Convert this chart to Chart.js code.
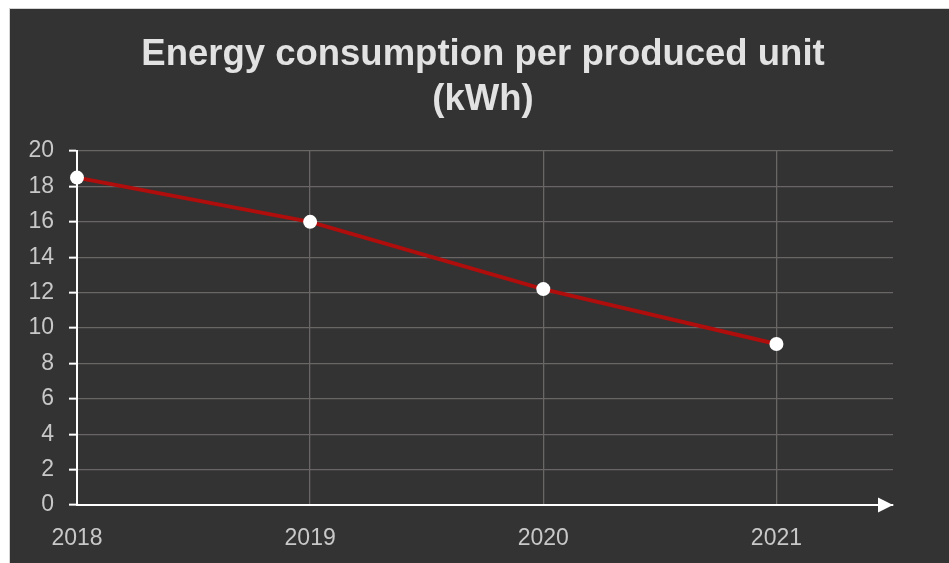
<!DOCTYPE html>
<html>
<head>
<meta charset="utf-8">
<script src="https://cdn.jsdelivr.net/npm/chart.js@4/dist/chart.umd.min.js"></script>
<style>
    body { margin: 0; background: #ffffff; }
    #wrap {
        position: absolute; left: 9px; top: 8px;
        width: 939px; height: 554px;
        border-left: 1px solid #d4d4d4; border-top: 1px solid #d4d4d4;
        background: #333333;
    }
</style>
</head>
<body>
<div id="wrap"><canvas id="chart" width="939" height="554"></canvas></div>
<script>
// данные графика
const years = [2018, 2019, 2020, 2021];
const energyPerUnit = [18.5, 16.0, 12.2, 9.1];
const yTicks = [0, 2, 4, 6, 8, 10, 12, 14, 16, 18, 20];
const chartTitle = ['Energy consumption per produced unit', '(kWh)'];

const fontFamily = '"Liberation Sans", Arial, sans-serif';

// стрелка на конце оси X
const axisArrow = {
    id: 'axisArrow',
    afterDraw(chart) {
        const ctx = chart.ctx;
        const area = chart.chartArea;
        ctx.save();
        ctx.fillStyle = '#ffffff';
        ctx.beginPath();
        ctx.moveTo(area.right, area.bottom);
        ctx.lineTo(area.right - 15, area.bottom - 7.5);
        ctx.lineTo(area.right - 15, area.bottom + 7.5);
        ctx.closePath();
        ctx.fill();
        ctx.restore();
    }
};

function buildPoints() {
    return years.map((year, i) => ({ x: year, y: energyPerUnit[i] }));
}

const config = {
    type: 'line',
    data: {
        datasets: [{
            data: buildPoints(),
            borderColor: '#b00d0d',
            borderWidth: 4,
            pointRadius: 7,
            pointBackgroundColor: '#ffffff',
            pointBorderColor: '#ffffff',
            pointBorderWidth: 0,
            tension: 0,
            clip: false
        }]
    },
    options: {
        responsive: false,
        animation: false,
        layout: { padding: { left: 7, right: 0, top: 0, bottom: 0 } },
        plugins: {
            legend: { display: false },
            tooltip: { enabled: false },
            title: {
                display: true,
                text: chartTitle,
                color: '#e2e2e2',
                font: { family: fontFamily, size: 36.5, weight: 'bold', lineHeight: 1.22 },
                padding: { top: 24, bottom: 29 }
            }
        },
        scales: {
            x: {
                type: 'linear',
                min: 2018,
                max: 2021.5,
                afterBuildTicks(scale) {
                    scale.ticks = years.map(v => ({ value: v }));
                },
                afterFit(scale) { scale.height = 58; },
                ticks: {
                    color: '#c8c8c8',
                    font: { family: fontFamily, size: 23 },
                    padding: 20,
                    callback: v => String(v)
                },
                grid: { color: '#6a6666', lineWidth: 1.3, drawTicks: false },
                border: { color: '#ffffff', width: 2 }
            },
            y: {
                min: 0,
                max: 20,
                afterBuildTicks(scale) {
                    scale.ticks = yTicks.map(v => ({ value: v }));
                },
                afterFit(scale) { scale.width = 60; },
                ticks: {
                    color: '#c8c8c8',
                    font: { family: fontFamily, size: 23 },
                    padding: 15
                },
                grid: { color: '#6a6666', lineWidth: 1.3, tickLength: 8, tickColor: '#ffffff', tickWidth: 2 },
                border: { color: '#ffffff', width: 2 }
            },
            // пустое место справа от графика
            yRight: {
                position: 'right',
                min: 0,
                max: 20,
                afterFit(scale) { scale.width = 56; },
                ticks: { display: false },
                grid: { display: false, drawTicks: false },
                border: { display: false }
            }
        }
    },
    plugins: [axisArrow]
};

new Chart(document.getElementById('chart'), config);
</script>
</body>
</html>
